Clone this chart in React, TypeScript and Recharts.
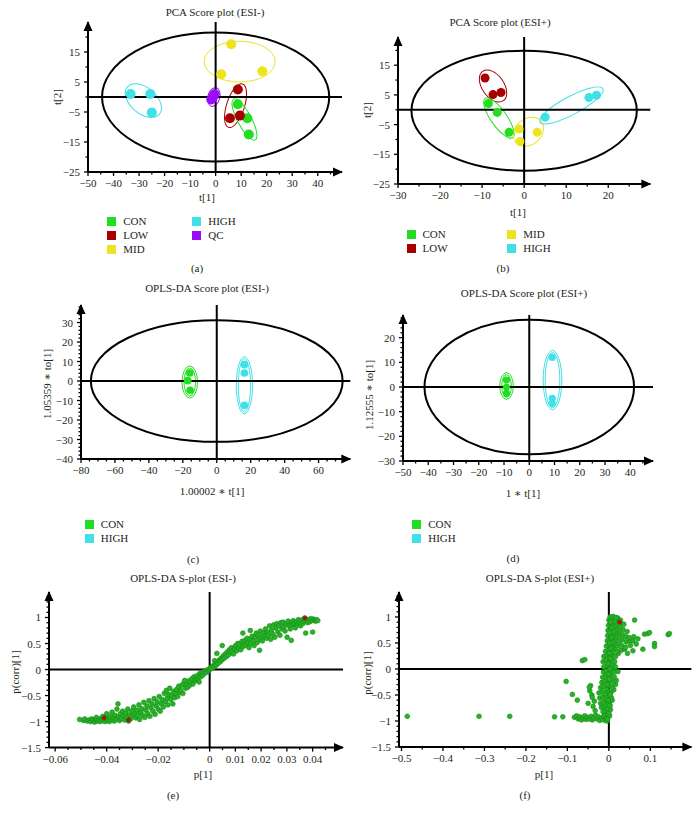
import React from "react";
import {
  ScatterChart,
  Scatter,
  XAxis,
  YAxis,
  ReferenceLine,
  ReferenceArea,
  ReferenceDot,
} from "recharts";

const FONT = '"Liberation Serif", "DejaVu Serif", serif';
const INK = "#231f20";

const CON_C = "#22de22";
const LOW_C = "#a80000";
const MID_C = "#ece41c";
const HIGH_C = "#3fe0e8";
const QC_C = "#9a0cf5";
const SP_C = "#26b326";
const SP_RED = "#b01010";

type P = [number, number];

// (a) PCA score plot ESI-
const aCon: P[] = [[8.7, -2.4], [12.4, -7.1], [13.0, -12.5]];
const aLow: P[] = [[8.7, 2.5], [5.6, -7.1], [9.5, -6.2]];
const aMid: P[] = [[6.1, 17.6], [2.2, 7.6], [18.3, 8.6]];
const aHigh: P[] = [[-33.3, 1.0], [-25.6, 1.0], [-25.0, -5.2]];
const aQc: P[] = [[-0.4, 0.9], [-1.7, -0.8], [-0.9, 0.1]];

// (b) PCA score plot ESI+
const bCon: P[] = [[-8.5, 2.1], [-6.4, -0.9], [-3.6, -7.6]];
const bLow: P[] = [[-9.3, 10.7], [-7.4, 5.1], [-5.5, 5.8]];
const bMid: P[] = [[-1.2, -6.5], [-1.0, -10.7], [3.1, -7.6]];
const bHigh: P[] = [[5.0, -2.5], [15.4, 4.1], [17.2, 4.9]];

// (c) OPLS-DA score plot ESI-
const cCon: P[] = [[-15.9, 4.1], [-17.1, 0.2], [-15.7, -4.7]];
const cHigh: P[] = [[16.3, 8.4], [16.3, 4.1], [16.3, -12.4]];

// (d) OPLS-DA score plot ESI+
const dCon: P[] = [[-9.0, 2.8], [-9.0, -0.1], [-9.0, -2.6]];
const dHigh: P[] = [[9.1, 12.0], [9.1, -4.6], [9.1, -6.6]];

// (e) S-plot ESI-  [p[1], p(corr)[1]]
const eVars: P[] = [
  [-0.0505, -0.96], [-0.049, -0.98], [-0.0485, -0.95],
  [-0.0475, -0.99], [-0.0468, -0.97], [-0.0462, -1.0], [-0.0458, -0.95],
  [-0.0452, -0.98], [-0.0447, -1.01], [-0.0443, -0.96], [-0.044, -0.92], [-0.0436, -0.99],
  [-0.0431, -0.97], [-0.0426, -1.0], [-0.0422, -0.94], [-0.0418, -0.98], [-0.0415, -0.9],
  [-0.0411, -0.96], [-0.0407, -1.0], [-0.0403, -0.93], [-0.04, -0.85], [-0.0398, -0.98],
  [-0.0394, -0.95], [-0.039, -1.0], [-0.0386, -0.9], [-0.0382, -0.97], [-0.0379, -0.82],
  [-0.0375, -0.93], [-0.0371, -0.99], [-0.0367, -0.88], [-0.0363, -0.96], [-0.036, -0.76], [-0.0356, -0.66],
  [-0.0354, -0.91], [-0.035, -0.98], [-0.0346, -0.85], [-0.0342, -0.94], [-0.0338, -0.8],
  [-0.0334, -0.89], [-0.033, -0.97], [-0.0326, -0.84], [-0.0322, -0.92], [-0.0318, -0.76], [-0.0315, -0.99],
  [-0.0311, -0.87], [-0.0307, -0.95], [-0.0303, -0.8], [-0.0299, -0.9], [-0.0295, -0.72],
  [-0.0291, -0.85], [-0.0287, -0.93], [-0.0283, -0.78], [-0.0279, -0.88], [-0.0275, -0.68], [-0.0272, -0.96],
  [-0.0268, -0.82], [-0.0264, -0.75], [-0.026, -0.88], [-0.0256, -0.63], [-0.0252, -0.92],
  [-0.0248, -0.78], [-0.0244, -0.7], [-0.024, -0.85], [-0.0236, -0.6], [-0.0232, -0.9],
  [-0.0228, -0.74], [-0.0224, -0.66], [-0.022, -0.8], [-0.0216, -0.56], [-0.0212, -0.86],
  [-0.0208, -0.7], [-0.0204, -0.62], [-0.02, -0.76], [-0.0196, -0.52], [-0.0192, -0.8],
  [-0.0188, -0.66], [-0.0184, -0.58], [-0.018, -0.72], [-0.0176, -0.46], [-0.0172, -0.62],
  [-0.0168, -0.4], [-0.0165, -0.55], [-0.0162, -0.68], [-0.0158, -0.48], [-0.0155, -0.36],
  [-0.0151, -0.58], [-0.0147, -0.5], [-0.0143, -0.66], [-0.014, -0.42], [-0.0136, -0.54],
  [-0.0132, -0.46], [-0.0128, -0.38], [-0.0124, -0.52], [-0.012, -0.32], [-0.0116, -0.44],
  [-0.0112, -0.4], [-0.0108, -0.3], [-0.0104, -0.46], [-0.01, -0.26], [-0.0097, -0.21],
  [-0.0093, -0.36], [-0.0089, -0.28], [-0.0085, -0.34], [-0.0081, -0.22], [-0.0077, -0.3],
  [-0.0073, -0.24], [-0.0069, -0.18], [-0.0065, -0.28], [-0.0061, -0.14], [-0.0057, -0.22],
  [-0.0053, -0.18], [-0.0049, -0.12], [-0.0045, -0.2], [-0.0041, -0.24], [-0.0039, -0.08],
  [-0.0035, -0.14], [-0.0031, -0.08], [-0.0027, -0.11], [-0.0023, -0.04], [-0.0019, -0.07],
  [-0.0015, -0.03], [-0.0011, -0.05], [-0.0007, 0.0], [-0.0003, -0.02],
  [0.0001, 0.01], [0.0005, 0.04], [0.0009, 0.02], [0.0013, 0.07], [0.0017, 0.05],
  [0.0019, 0.17], [0.0021, 0.1], [0.0025, 0.08], [0.0028, 0.31], [0.0029, 0.14], [0.0033, 0.12],
  [0.0037, 0.18], [0.0041, 0.15], [0.0045, 0.22], [0.0049, 0.46], [0.0049, 0.19], [0.0053, 0.26],
  [0.0057, 0.22], [0.0061, 0.3], [0.0065, 0.25], [0.0069, 0.34], [0.0073, 0.28],
  [0.0077, 0.38], [0.0081, 0.32], [0.0085, 0.42], [0.0089, 0.36], [0.0093, 0.3],
  [0.0097, 0.4], [0.0101, 0.46], [0.0105, 0.36], [0.0109, 0.5], [0.0113, 0.42],
  [0.0117, 0.48], [0.0121, 0.38], [0.0125, 0.54], [0.0129, 0.7], [0.0129, 0.44], [0.0133, 0.5],
  [0.0137, 0.56], [0.0141, 0.46], [0.0145, 0.6], [0.0149, 0.52], [0.0153, 0.42],
  [0.0158, 0.75], [0.0157, 0.58], [0.0161, 0.5], [0.0165, 0.64], [0.0169, 0.55], [0.0173, 0.46],
  [0.0177, 0.62], [0.0181, 0.7], [0.0185, 0.52], [0.0189, 0.66], [0.0194, 0.37], [0.0193, 0.58],
  [0.0197, 0.74], [0.0201, 0.62], [0.0205, 0.55], [0.0209, 0.7], [0.0213, 0.64],
  [0.0217, 0.78], [0.0221, 0.6], [0.0225, 0.72], [0.0229, 0.66], [0.0233, 0.84], [0.0237, 0.58],
  [0.0241, 0.76], [0.0245, 0.68], [0.0249, 0.86], [0.0253, 0.62], [0.0257, 0.8],
  [0.0261, 0.88], [0.0265, 0.72], [0.0269, 0.84], [0.0273, 0.66], [0.0277, 0.9], [0.0281, 0.78],
  [0.0285, 0.91], [0.0289, 0.82], [0.0293, 0.74], [0.0297, 0.88], [0.0301, 0.62],
  [0.0305, 0.93], [0.0309, 0.84], [0.0313, 0.78], [0.0317, 0.56], [0.0317, 0.9], [0.0321, 0.86],
  [0.0325, 0.94], [0.0329, 0.88], [0.0333, 0.8], [0.0337, 0.92], [0.0341, 0.86],
  [0.0345, 0.96], [0.0349, 0.9], [0.0353, 0.84], [0.0357, 0.94], [0.0361, 0.88],
  [0.0365, 0.97], [0.0369, 0.92], [0.0373, 0.7], [0.0377, 0.95], [0.0381, 0.9],
  [0.0385, 0.96], [0.0389, 0.92], [0.0393, 0.98], [0.0397, 0.94], [0.04, 0.72],
  [0.0403, 0.97], [0.0407, 0.95], [0.0411, 0.93], [0.0415, 0.96], [0.042, 0.94],
];
const eMarked: P[] = [[-0.041, -0.93], [-0.0315, -0.97], [0.037, 0.99]];

// (f) S-plot ESI+
const fVars: P[] = [
  [-0.486, -0.91], [-0.313, -0.91], [-0.239, -0.91], [-0.131, -0.92], [-0.111, -0.92],
  [-0.083, -0.93], [-0.078, -0.9], [-0.074, -0.96], [-0.07, -0.92], [-0.066, -0.98], [-0.062, -0.94],
  [-0.058, -0.9], [-0.055, -0.97], [-0.051, -0.93], [-0.047, -0.96], [-0.043, -0.91], [-0.04, -0.98],
  [-0.036, -0.94], [-0.032, -0.89], [-0.029, -0.96], [-0.025, -0.92], [-0.022, -0.99], [-0.018, -0.94],
  [-0.015, -0.97], [-0.012, -0.91], [-0.009, -0.99], [-0.006, -0.95], [-0.004, -1.0], [-0.002, -0.92],
  [-0.103, -0.24], [-0.088, -0.49], [-0.076, -0.6], [-0.064, 0.16], [-0.058, 0.18], [-0.044, -0.32],
  [-0.046, -0.42], [-0.041, -0.5], [-0.05, -0.66], [-0.038, -0.72], [-0.033, -0.8], [-0.047, -0.35],
  [-0.04, -0.55], [-0.035, -0.62],
  [-0.01, -0.88], [-0.004, -0.86], [0.002, -0.9],
  [-0.014, -0.82], [-0.007, -0.8], [0.0, -0.84], [0.004, -0.78],
  [-0.018, -0.74], [-0.011, -0.72], [-0.004, -0.76], [0.003, -0.7],
  [-0.02, -0.66], [-0.013, -0.64], [-0.006, -0.68], [0.002, -0.62], [0.008, -0.6],
  [-0.022, -0.56], [-0.015, -0.54], [-0.008, -0.58], [-0.001, -0.52], [0.006, -0.55],
  [-0.024, -0.46], [-0.016, -0.44], [-0.009, -0.48], [-0.002, -0.42], [0.005, -0.45], [0.012, -0.4],
  [-0.02, -0.36], [-0.013, -0.34], [-0.006, -0.38], [0.001, -0.32], [0.008, -0.35], [0.016, -0.3],
  [-0.017, -0.26], [-0.01, -0.24], [-0.003, -0.28], [0.004, -0.22], [0.011, -0.25], [0.018, -0.22],
  [-0.015, -0.16], [-0.008, -0.14], [-0.001, -0.18], [0.006, -0.12], [0.013, -0.15],
  [-0.013, -0.06], [-0.006, -0.04], [0.001, -0.08], [0.008, -0.02], [0.015, -0.05], [0.022, -0.05],
  [-0.012, 0.04], [-0.005, 0.06], [0.002, 0.02], [0.009, 0.08], [0.016, 0.04],
  [-0.014, 0.14], [-0.007, 0.16], [0.0, 0.12], [0.007, 0.18], [0.014, 0.14],
  [-0.012, 0.24], [-0.005, 0.26], [0.002, 0.22], [0.009, 0.28], [0.016, 0.24], [0.023, 0.3],
  [-0.008, 0.34], [-0.001, 0.36], [0.006, 0.32], [0.013, 0.38], [0.02, 0.34], [0.03, 0.36], [0.038, 0.38],
  [-0.006, 0.44], [0.001, 0.46], [0.008, 0.42], [0.015, 0.48], [0.022, 0.44], [0.03, 0.46], [0.04, 0.42],
  [-0.004, 0.54], [0.003, 0.56], [0.01, 0.52], [0.017, 0.58], [0.024, 0.54], [0.032, 0.56], [0.042, 0.52], [0.05, 0.54],
  [-0.003, 0.64], [0.004, 0.66], [0.011, 0.62], [0.018, 0.68], [0.025, 0.64], [0.033, 0.66], [0.041, 0.62], [0.049, 0.6],
  [-0.002, 0.74], [0.005, 0.76], [0.012, 0.72], [0.019, 0.78], [0.026, 0.74], [0.034, 0.76], [0.044, 0.72],
  [-0.001, 0.84], [0.006, 0.86], [0.013, 0.82], [0.02, 0.88], [0.027, 0.84], [0.036, 0.86],
  [0.0, 0.94], [0.007, 0.96], [0.014, 0.92], [0.021, 0.98], [0.028, 0.94],
  [0.003, 1.0], [0.01, 1.01], [0.017, 0.99],
  [0.062, 0.94], [0.058, 0.54], [0.058, 0.35], [0.082, 0.38], [0.086, 0.67], [0.094, 0.68],
  [0.098, 0.7], [0.11, 0.49], [0.11, 0.43], [0.143, 0.66], [0.146, 0.68], [0.045, 0.3],
  [0.06, 0.62], [0.07, 0.58], [0.052, 0.45], [0.066, 0.48],
  [-0.003, -0.96], [0.001, -0.7], [-0.002, -0.6], [0.003, -0.5], [-0.004, -0.3], [0.002, -0.2],
  [-0.001, -0.1], [0.003, 0.0], [-0.002, 0.1], [0.004, 0.2], [0.001, 0.3], [0.005, 0.4],
  [0.002, 0.5], [0.006, 0.6], [0.003, 0.7], [0.007, 0.8], [0.004, 0.9],
];
const fMarked: P[] = [[0.026, 0.9]];

// tick labels
const aXMajor = [-50, -40, -30, -20, -10, 0, 10, 20, 30, 40];
const aYMajor = [-25, -15, -5, 5, 15];
const bXMajor = [-30, -20, -10, 0, 10, 20];
const cXMajor = [-80, -60, -40, -20, 0, 20, 40, 60];
const cYMajor = [-40, -30, -20, -10, 0, 10, 20, 30];
const dXMajor = [-50, -40, -30, -20, -10, 0, 10, 20, 30, 40];
const dYMajor = [-30, -20, -10, 0, 10, 20];
const eXMajor = [-0.06, -0.04, -0.02, 0, 0.01, 0.02, 0.03, 0.04];
const sYMajor = [-1.5, -1, -0.5, 0, 0.5, 1];
const fXMajor = [-0.5, -0.4, -0.3, -0.2, -0.1, 0, 0.1];

const legendA = [
  { label: "CON", color: CON_C }, { label: "LOW", color: LOW_C }, { label: "MID", color: MID_C },
  { label: "HIGH", color: HIGH_C }, { label: "QC", color: QC_C },
];
const legendB = [
  { label: "CON", color: CON_C }, { label: "LOW", color: LOW_C },
  { label: "MID", color: MID_C }, { label: "HIGH", color: HIGH_C },
];
const legendCD = [{ label: "CON", color: CON_C }, { label: "HIGH", color: HIGH_C }];

interface Ell {
  color: string; cx: number; cy: number; rx: number; ry: number;
  rot?: number; double?: boolean; w?: number;
}

// confidence ellipses (centre, semi-axes in data units, tilt in degrees)
const aEll: Ell[] = [
  { color: "#000", cx: 0, cy: 0, rx: 44.5, ry: 21.5, w: 2 },
  { color: MID_C, cx: 9.4, cy: 11.8, rx: 13.9, ry: 6.8 },
  { color: LOW_C, cx: 7.8, cy: -2.9, rx: 3.5, ry: 7.6, rot: 18 },
  { color: CON_C, cx: 11.3, cy: -7.5, rx: 2.74, ry: 7.7, rot: -28 },
  { color: HIGH_C, cx: -28.3, cy: -1.2, rx: 8.2, ry: 4.33, rot: 40 },
  { color: QC_C, cx: -0.7, cy: 0, rx: 2.35, ry: 3.17, rot: 15 },
];
const bEll: Ell[] = [
  { color: "#000", cx: 0, cy: -0.3, rx: 26.8, ry: 20.2, w: 2 },
  { color: LOW_C, cx: -7.4, cy: 8.0, rx: 4.27, ry: 3.7, rot: 55 },
  { color: CON_C, cx: -6.0, cy: -2.8, rx: 5.7, ry: 2.69, rot: 55 },
  { color: MID_C, cx: 1.04, cy: -7.4, rx: 3.92, ry: 4.37, rot: -40 },
  { color: HIGH_C, cx: 11.25, cy: 1.45, rx: 8.48, ry: 3.03, rot: -28 },
];
const cEll: Ell[] = [
  { color: "#000", cx: 0, cy: 0, rx: 74.2, ry: 31.2, w: 2 },
  { color: CON_C, cx: -15.9, cy: -0.5, rx: 3.4, ry: 7.2, double: true },
  { color: HIGH_C, cx: 16.3, cy: -2.2, rx: 3.6, ry: 13.6, double: true },
];
const dEll: Ell[] = [
  { color: "#000", cx: 0, cy: 0, rx: 41.5, ry: 27.3, w: 2 },
  { color: CON_C, cx: -9.0, cy: 0.4, rx: 1.9, ry: 4.6, double: true },
  { color: HIGH_C, cx: 9.2, cy: 2.8, rx: 2.9, ry: 11.2, double: true },
];

const steps = (a: number, b: number, s: number) => {
  const out: number[] = [];
  for (let i = 0; a + i * s <= b + 1e-9; i++) out.push(+(a + i * s).toFixed(6));
  return out;
};
const minus = (v: number) => (v < 0 ? "\u2212" + String(-v) : String(v));
const isMajor = (list: number[], v: number) => list.some((m) => Math.abs(m - v) < 1e-9);

function XTick(props: any) {
  const { x, y, payload, majors } = props;
  const major = isMajor(majors, payload.value);
  return (
    <g>
      <line x1={x} y1={y} x2={x} y2={y + (major ? 4 : 2.5)} stroke="#000" strokeWidth={1.3} />
      {major && (
        <text x={x} y={y + 15} textAnchor="middle" fontSize={11} fontFamily={FONT} fill={INK}>
          {minus(payload.value)}
        </text>
      )}
    </g>
  );
}

function YTick(props: any) {
  const { x, y, payload, majors } = props;
  const major = isMajor(majors, payload.value);
  return (
    <g>
      <line x1={x} y1={y} x2={x - (major ? 4 : 2.5)} y2={y} stroke="#000" strokeWidth={1.3} />
      {major && (
        <text x={x - 8} y={y + 4} textAnchor="end" fontSize={11} fontFamily={FONT} fill={INK}>
          {minus(payload.value)}
        </text>
      )}
    </g>
  );
}

const ellipseShape = (e: Ell) => (p: any) => {
  const cx = p.x + p.width / 2;
  const cy = p.y + p.height / 2;
  const rx = p.width / 2;
  const ry = p.height / 2;
  const sw = e.w ?? 1;
  return (
    <g transform={`rotate(${e.rot ?? 0} ${cx} ${cy})`}>
      <ellipse cx={cx} cy={cy} rx={rx} ry={ry} fill="none" stroke={e.color} strokeWidth={sw} />
      {e.double && (
        <ellipse cx={cx} cy={cy} rx={rx + 2} ry={ry + 2} fill="none" stroke={e.color} strokeWidth={sw} />
      )}
    </g>
  );
};

interface Grp { color: string; pts: P[] }
interface PanelProps {
  box: [number, number, number, number];
  xDomain: [number, number];
  yDomain: [number, number];
  xMajor: number[]; xMinor: number[];
  yMajor: number[]; yMinor: number[];
  groups: Grp[];
  ellipses: Ell[];
  r: number;
  outline?: string;
}

const YW = 50;
const XH = 30;
const PAD = 10;

function Panel(props: PanelProps) {
  const { box, xDomain, yDomain, xMajor, xMinor, yMajor, yMinor, groups, ellipses, r, outline } = props;
  const [L, T, R, B] = box;
  const xTicks = [...xMajor, ...xMinor.filter((v) => !isMajor(xMajor, v))];
  const yTicks = [...yMajor, ...yMinor.filter((v) => !isMajor(yMajor, v))];
  return (
    <div style={{ position: "absolute", left: L - YW, top: T - PAD }}>
      <ScatterChart
        width={R - L + YW + PAD}
        height={B - T + PAD + XH}
        margin={{ top: PAD, right: PAD, bottom: 0, left: 0 }}
      >
        <XAxis
          type="number"
          dataKey="x"
          domain={xDomain}
          allowDataOverflow
          ticks={xTicks}
          interval={0}
          height={XH}
          tickSize={0}
          tickMargin={0}
          tickLine={false}
          axisLine={{ stroke: "#000", strokeWidth: 2 }}
          tick={(p: any) => <XTick {...p} majors={xMajor} />}
        />
        <YAxis
          type="number"
          dataKey="y"
          domain={yDomain}
          allowDataOverflow
          ticks={yTicks}
          interval={0}
          width={YW}
          tickSize={0}
          tickMargin={0}
          tickLine={false}
          axisLine={{ stroke: "#000", strokeWidth: 2 }}
          tick={(p: any) => <YTick {...p} majors={yMajor} />}
        />
        <ReferenceLine x={0} stroke="#000" strokeWidth={2} />
        <ReferenceLine y={0} stroke="#000" strokeWidth={2} />
        {ellipses.map((e, i) => (
          <ReferenceArea
            key={"e" + i}
            x1={e.cx - e.rx}
            x2={e.cx + e.rx}
            y1={e.cy - e.ry}
            y2={e.cy + e.ry}
            ifOverflow="visible"
            shape={ellipseShape(e)}
          />
        ))}
        {groups.map((g, i) => (
          <Scatter
            key={"g" + i}
            data={g.pts.map(([x, y]) => ({ x, y }))}
            fill={g.color}
            isAnimationActive={false}
            shape={(s: any) => (
              <circle
                cx={s.cx}
                cy={s.cy}
                r={r}
                fill={g.color}
                stroke={outline ?? "none"}
                strokeWidth={0.6}
              />
            )}
          />
        ))}
        <ReferenceDot
          x={xDomain[1]}
          y={yDomain[0]}
          ifOverflow="visible"
          shape={(s: any) => <path d={`M${s.cx + 1},${s.cy} l-10,-4.5 v9 z`} fill="#000" />}
        />
        <ReferenceDot
          x={xDomain[0]}
          y={yDomain[1]}
          ifOverflow="visible"
          shape={(s: any) => <path d={`M${s.cx},${s.cy - 1} l-4.5,10 h9 z`} fill="#000" />}
        />
      </ScatterChart>
    </div>
  );
}

function Txt({ x, y, children, rot, left }: any) {
  return (
    <div
      style={{
        position: "absolute",
        left: x,
        top: y,
        transform: left ? "translateY(-50%)" : `translate(-50%,-50%)${rot ? " rotate(-90deg)" : ""}`,
        whiteSpace: "nowrap",
        fontFamily: FONT,
        fontSize: 11,
        lineHeight: "12px",
        color: INK,
      }}
    >
      {children}
    </div>
  );
}

function Legend({ items, cols, rows }: { items: { label: string; color: string }[]; cols: number[]; rows: number[] }) {
  return (
    <>
      {items.map((it, i) => {
        const c = Math.floor(i / rows.length);
        const rr = i % rows.length;
        const sx = cols[c];
        const sy = rows[rr];
        return (
          <React.Fragment key={it.label}>
            <div style={{ position: "absolute", left: sx - 4.5, top: sy - 4.5, width: 9, height: 9, background: it.color }} />
            <Txt x={sx + 11.5} y={sy} left>
              {it.label}
            </Txt>
          </React.Fragment>
        );
      })}
    </>
  );
}

export default function App() {
  return (
    <div style={{ position: "absolute", left: 0, top: 0, width: 700, height: 816, background: "#fff" }}>
      {/* (a) */}
      <Txt x={215} y={12}>PCA Score plot (ESI-)</Txt>
      <Panel
        box={[88, 22, 342, 172]}
        xDomain={[-50, 49.5]}
        yDomain={[-25, 25]}
        xMajor={aXMajor}
        xMinor={steps(-50, 45, 5)}
        yMajor={aYMajor}
        yMinor={steps(-25, 20, 5)}
        groups={[
          { color: CON_C, pts: aCon }, { color: LOW_C, pts: aLow }, { color: MID_C, pts: aMid },
          { color: HIGH_C, pts: aHigh }, { color: QC_C, pts: aQc },
        ]}
        ellipses={aEll}
        r={5}
      />
      <Txt x={57} y={97} rot>t[2]</Txt>
      <Txt x={207} y={197}>t[1]</Txt>
      <Legend items={legendA} cols={[111.7, 196.7]} rows={[221, 235, 249]} />
      <Txt x={197} y={268}>(a)</Txt>

      {/* (b) */}
      <Txt x={500} y={22}>PCA Score plot (ESI+)</Txt>
      <Panel
        box={[397.7, 37, 650, 184]}
        xDomain={[-30, 30]}
        yDomain={[-25, 24.5]}
        xMajor={bXMajor}
        xMinor={steps(-30, 25, 5)}
        yMajor={aYMajor}
        yMinor={steps(-25, 20, 5)}
        groups={[
          { color: CON_C, pts: bCon }, { color: LOW_C, pts: bLow },
          { color: MID_C, pts: bMid }, { color: HIGH_C, pts: bHigh },
        ]}
        ellipses={bEll}
        r={4.5}
      />
      <Txt x={367} y={110} rot>t[2]</Txt>
      <Txt x={518} y={212}>t[1]</Txt>
      <Legend items={legendB} cols={[411, 511.7]} rows={[234, 248]} />
      <Txt x={503} y={268}>(b)</Txt>

      {/* (c) */}
      <Txt x={207} y={288}>OPLS-DA Score plot (ESI-)</Txt>
      <Panel
        box={[80.7, 305, 350, 459]}
        xDomain={[-80, 78.7]}
        yDomain={[-40, 39]}
        xMajor={cXMajor}
        xMinor={steps(-80, 75, 5)}
        yMajor={cYMajor}
        yMinor={steps(-40, 38, 2)}
        groups={[{ color: CON_C, pts: cCon }, { color: HIGH_C, pts: cHigh }]}
        ellipses={cEll}
        r={3.8}
      />
      <Txt x={46.7} y={384} rot>1.05359 ∗ to[1]</Txt>
      <Txt x={212} y={491}>1.00002 ∗ t[1]</Txt>
      <Legend items={legendCD} cols={[89.3]} rows={[524, 538.3]} />
      <Txt x={193} y={559}>(c)</Txt>

      {/* (d) */}
      <Txt x={524} y={293}>OPLS-DA Score plot (ESI+)</Txt>
      <Panel
        box={[403.3, 315, 653.3, 461]}
        xDomain={[-50, 49]}
        yDomain={[-30, 29.2]}
        xMajor={dXMajor}
        xMinor={steps(-50, 45, 5)}
        yMajor={dYMajor}
        yMinor={steps(-30, 28, 2)}
        groups={[{ color: CON_C, pts: dCon }, { color: HIGH_C, pts: dHigh }]}
        ellipses={dEll}
        r={3.6}
      />
      <Txt x={369.3} y={395} rot>1.12555 ∗ to[1]</Txt>
      <Txt x={523} y={493}>1 ∗ t[1]</Txt>
      <Legend items={legendCD} cols={[416.7]} rows={[524, 538]} />
      <Txt x={513} y={558}>(d)</Txt>

      {/* (e) */}
      <Txt x={183} y={578}>OPLS-DA S-plot (ESI-)</Txt>
      <Panel
        box={[49.3, 591.7, 343.3, 747.3]}
        xDomain={[-0.0624, 0.0518]}
        yDomain={[-1.5, 1.49]}
        xMajor={eXMajor}
        xMinor={steps(-0.06, 0.05, 0.005)}
        yMajor={sYMajor}
        yMinor={steps(-1.5, 1.4, 0.1)}
        groups={[{ color: SP_C, pts: eVars }, { color: SP_RED, pts: eMarked }]}
        ellipses={[]}
        r={2.4}
        outline="#178a17"
      />
      <Txt x={15} y={672} rot>p(corr)[1]</Txt>
      <Txt x={203} y={774}>p[1]</Txt>
      <Txt x={173} y={795}>(e)</Txt>

      {/* (f) */}
      <Txt x={540} y={578}>OPLS-DA S-plot (ESI+)</Txt>
      <Panel
        box={[399.3, 591.7, 691.7, 746.7]}
        xDomain={[-0.506, 0.199]}
        yDomain={[-1.5, 1.48]}
        xMajor={fXMajor}
        xMinor={steps(-0.5, 0.15, 0.05)}
        yMajor={sYMajor}
        yMinor={steps(-1.5, 1.4, 0.1)}
        groups={[{ color: SP_C, pts: fVars }, { color: SP_RED, pts: fMarked }]}
        ellipses={[]}
        r={2.4}
        outline="#178a17"
      />
      <Txt x={366.7} y={673} rot>p(corr)[1]</Txt>
      <Txt x={544} y={774}>p[1]</Txt>
      <Txt x={525} y={795}>(f)</Txt>
    </div>
  );
}
